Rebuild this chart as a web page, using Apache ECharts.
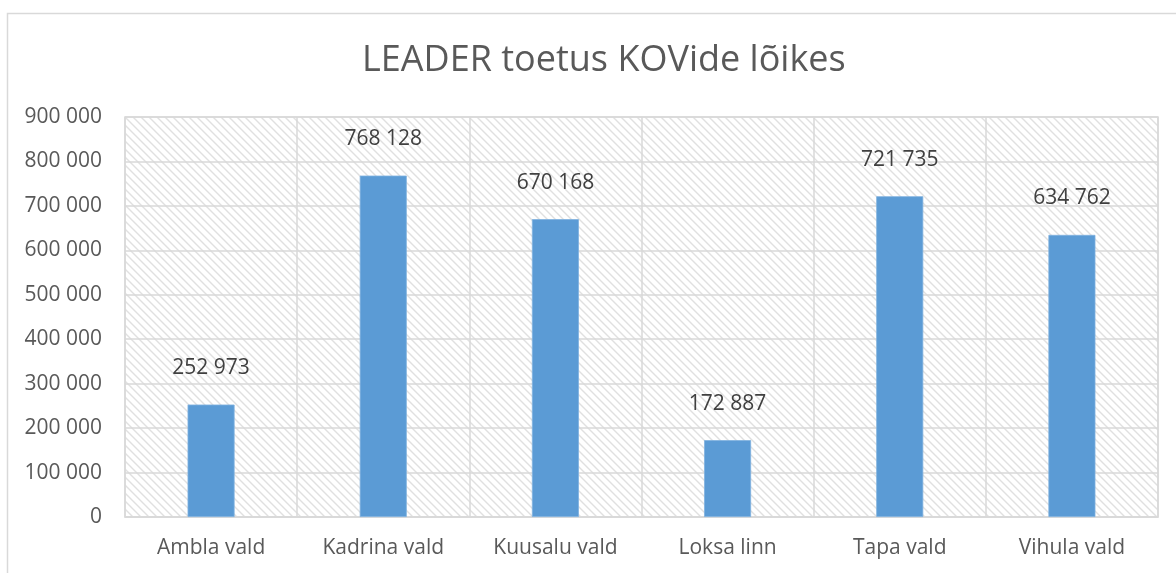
<!DOCTYPE html>
<html>
<head>
<meta charset="utf-8">
<script src="https://cdn.jsdelivr.net/npm/echarts@6/dist/echarts.min.js"></script>
<style>
  html, body { margin: 0; padding: 0; background: #fff; }
  #chart { width: 1176px; height: 573px; }
</style>
</head>
<body>
<div id="chart"></div>
<script>
// andmed
var categories = ['Ambla vald', 'Kadrina vald', 'Kuusalu vald', 'Loksa linn', 'Tapa vald', 'Vihula vald'];
var toetus = [252973, 768128, 670168, 172887, 721735, 634762];
var yMax = 900000;
var yStep = 100000;

// tühikuga tuhandete eraldaja
function fmt(v) {
	return String(v).replace(/\B(?=(\d{3})+(?!\d))/g, ' ');
}

// viirutatud taust
function hatch() {
	var c = document.createElement('canvas');
	c.width = 8;
	c.height = 8;
	var ctx = c.getContext('2d');
	ctx.fillStyle = '#ffffff';
	ctx.fillRect(0, 0, 8, 8);
	ctx.strokeStyle = '#e0e0e0';
	ctx.lineWidth = 1.4;
	ctx.beginPath();
	ctx.moveTo(-2, -2); ctx.lineTo(10, 10);
	ctx.moveTo(-2, 6); ctx.lineTo(2, 10);
	ctx.moveTo(6, -2); ctx.lineTo(10, 2);
	ctx.stroke();
	return c;
}

var font = '"Open Sans", sans-serif';
var myChart = echarts.init(document.getElementById('chart'));
var option = {
	animation: false,
	title: {
		text: 'LEADER toetus KOVide lõikes',
		left: 357,
		top: 38,
		textStyle: { color: '#595959', fontSize: 36, fontWeight: 'normal', fontFamily: font }
	},
	graphic: [{
		type: 'rect',
		shape: { x: 7.5, y: 13.5, width: 1200, height: 600 },
		style: { fill: null, stroke: '#d9d9d9', lineWidth: 1.5 },
		silent: true
	}],
	grid: {
		left: 125,
		right: 18,
		top: 117,
		bottom: 56,
		show: true,
		backgroundColor: { image: hatch(), repeat: 'repeat' },
		borderColor: '#d9d9d9',
		borderWidth: 1.5
	},
	xAxis: {
		type: 'category',
		data: categories,
		axisLine: { lineStyle: { color: '#d9d9d9', width: 1.5 } },
		axisTick: { show: false },
		splitLine: { show: true, interval: 0, lineStyle: { color: '#d9d9d9', width: 1.5 } },
		axisLabel: { color: '#595959', fontSize: 21, fontFamily: font, margin: 21, interval: 0 }
	},
	yAxis: {
		type: 'value',
		min: 0,
		max: yMax,
		interval: yStep,
		axisLine: { show: false },
		axisTick: { show: false },
		splitLine: { lineStyle: { color: '#d9d9d9', width: 1.5 } },
		axisLabel: {
			color: '#595959', fontSize: 21, fontFamily: font, margin: 23,
			formatter: function (v) { return fmt(v); }
		}
	},
	series: [{
		type: 'bar',
		data: toetus,
		barWidth: 47,
		itemStyle: { color: '#5b9bd5', borderColor: '#7fb1e0', borderWidth: 0.8 },
		label: {
			show: true,
			position: 'top',
			distance: 26,
			color: '#404040',
			fontSize: 21,
			fontFamily: font,
			formatter: function (p) { return fmt(p.value); }
		}
	}]
};
myChart.setOption(option, true);
</script>
</body>
</html>
